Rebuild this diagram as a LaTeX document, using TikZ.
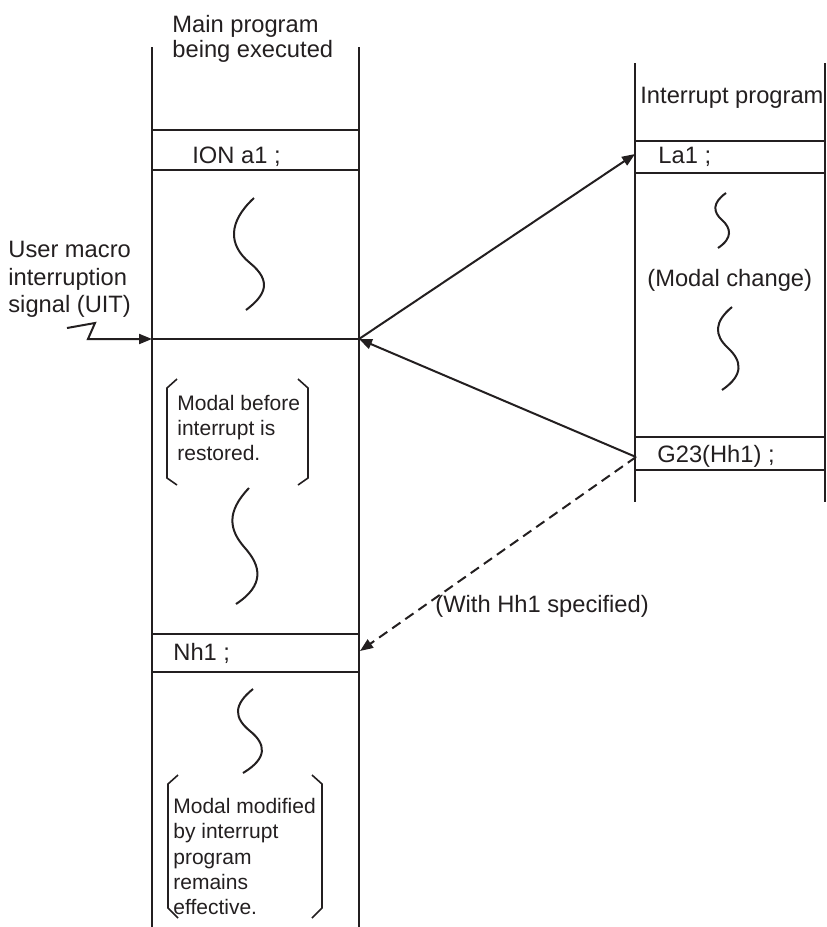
\documentclass[tikz,border=0pt]{standalone}
\usepackage{fontspec}
\setmainfont{Liberation Sans}
\usetikzlibrary{arrows.meta}

\begin{document}
\begin{tikzpicture}[
    x=0.5pt, y=-0.5pt,
    every node/.style={font=\fontsize{11.85}{13.5}\selectfont, text=ink, inner sep=0pt},
    col/.style={line width=1pt, draw=ink},
    squig/.style={line width=1pt, draw=ink},
    brack/.style={line width=0.8pt, draw=ink},
    flow/.style={line width=1pt, draw=ink, -{Triangle[length=6.5pt, width=5pt]}},
    small/.style={font=\fontsize{10.5}{12.5}\selectfont, align=left, anchor=north west},
  ]
  \definecolor{ink}{RGB}{35,31,32}
  \useasboundingbox (0,0) rectangle (826,927);

  % main program column
  \draw[col] (152,47) -- (152,927);
  \draw[col] (359,47) -- (359,927);
  \foreach \y in {130,170,339,634,672}
    \draw[col] (152,\y) -- (359,\y);

  % interrupt program column
  \draw[col] (635,63) -- (635,502);
  \draw[col] (825,63) -- (825,502);
  \foreach \y in {141,173,437,470}
    \draw[col] (635,\y) -- (825,\y);

  % headings and blocks
  \node[anchor=north west, align=left, font=\fontsize{11.85}{12.5}\selectfont]
    (mainhd) at (172,15) {Main program\\being executed};
  \node[anchor=base west] (intrhd) at (640,103) {Interrupt program};
  \node[anchor=north west, align=left, font=\fontsize{11.85}{13.75}\selectfont]
    (uit) at (8,241) {User macro\\interruption\\signal (UIT)};
  \node[anchor=base west] (ion) at (192,163) {ION a1 ;};
  \node[anchor=base west] (la) at (658,163) {La1 ;};
  \node[anchor=base west] (gtt) at (657,462) {G23(Hh1) ;};
  \node[anchor=base west] (nh) at (173,660) {Nh1 ;};
  \node[anchor=base west] (modchg) at (647,286) {(Modal change)};
  \node[anchor=base west] (hhspec) at (435,612) {(With Hh1 specified)};
  \node[small] (restored) at (177,395) {Modal before\\interrupt is\\restored.};
  \node[small, font=\fontsize{10.5}{12.65}\selectfont]
    (effective) at (173,798) {Modal modified\\by interrupt\\program\\remains\\effective.};

  % brackets
  \draw[brack] (177,379) -- (167,388) -- (167,478) -- (177,485);
  \draw[brack] (298,379) -- (308,388) -- (308,478) -- (298,485);
  \draw[brack] (178,775) -- (168,784) -- (168,908) -- (178,918);
  \draw[brack] (312,775) -- (322,784) -- (322,908) -- (312,918);

  % squiggles
  \draw[squig] (254,198) .. controls (228,222) and (228,245) .. (250,263)
    .. controls (272,281) and (266,295) .. (246,310);
  \draw[squig] (249,488) .. controls (226,512) and (229,530) .. (245,548)
    .. controls (261,566) and (265,585) .. (236,604);
  \draw[squig] (253,689) .. controls (233,705) and (234,718) .. (250,731)
    .. controls (266,744) and (268,758) .. (243,773);
  \draw[squig] (726,193) .. controls (712,203) and (713,212) .. (722,220)
    .. controls (731,228) and (733,238) .. (718,248);
  \draw[squig] (732,307) .. controls (714,322) and (714,335) .. (728,348)
    .. controls (742,361) and (744,375) .. (722,390);

  % connectors
  \coordinate (sigR) at (359,339);
  \coordinate (sigL) at (152,339);
  \coordinate (laL) at (635,154);
  \coordinate (gL) at (636,457);
  \coordinate (nhR) at (360,651);
  \coordinate (zig) at (67,328);
  \draw[flow] (sigR) -- (laL);
  \draw[flow] (gL) -- (sigR);
  \draw[flow, dash pattern=on 5pt off 3pt] (gL) -- (nhR);
  \draw[flow, line join=miter] (zig) -- (95,323) -- (88,339) -- (sigL);
\end{tikzpicture}
\end{document}
